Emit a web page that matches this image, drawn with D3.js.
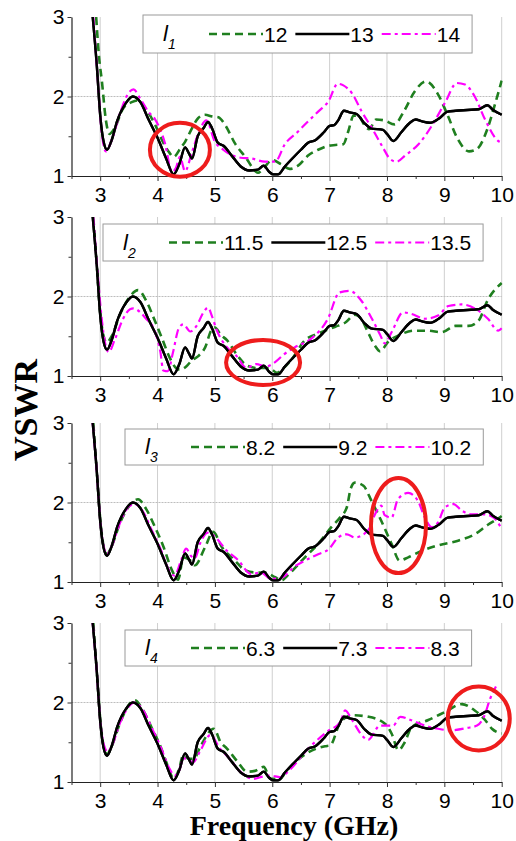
<!DOCTYPE html>
<html><head><meta charset="utf-8">
<script src="https://cdn.jsdelivr.net/npm/d3@7"></script>
<style>body{margin:0;background:#fff}svg{display:block}</style>
</head><body>
<script>
// ---------- DATA ----------
const xTicks = [3,4,5,6,7,8,9,10];
const xMinorTicks = [2.5,3.5,4.5,5.5,6.5,7.5,8.5,9.5];
const yTicks = [1,2,3];
const yMinorTicks = [1.5,2.5];
const panelParams = ["1","2","3","4"];
const legendLabels = [["12","13","14"],["11.5","12.5","13.5"],["8.2","9.2","10.2"],["6.3","7.3","8.3"]];

// reference (black) curve, identical in all panels
const refCurve = [[2.87,3.0],[2.94,2.4],[3.0,1.77],[3.06,1.43],[3.12,1.33],[3.2,1.45],[3.3,1.7],[3.45,1.92],[3.57,2.0],[3.7,1.93],[3.85,1.7],[4.0,1.48],[4.15,1.22],[4.28,1.02],[4.38,1.15],[4.48,1.36],[4.55,1.28],[4.6,1.22],[4.7,1.5],[4.8,1.6],[4.88,1.68],[4.95,1.6],[5.05,1.42],[5.15,1.38],[5.3,1.25],[5.45,1.12],[5.6,1.07],[5.75,1.08],[5.85,1.13],[5.95,1.05],[6.02,1.02],[6.1,1.02],[6.22,1.12],[6.35,1.22],[6.5,1.33],[6.63,1.42],[6.75,1.45],[6.9,1.55],[7.0,1.63],[7.08,1.64],[7.15,1.7],[7.25,1.82],[7.35,1.8],[7.47,1.78],[7.6,1.67],[7.72,1.6],[7.93,1.58],[8.0,1.53],[8.11,1.44],[8.25,1.55],[8.4,1.67],[8.5,1.71],[8.6,1.69],[8.75,1.67],[8.9,1.72],[9.06,1.81],[9.2,1.82],[9.4,1.83],[9.6,1.84],[9.75,1.89],[9.85,1.83],[10.0,1.77]];

const l1Low = [[2.93,3.0],[2.98,2.5],[3.03,2.19],[3.1,1.7],[3.16,1.53],[3.25,1.6],[3.4,1.85],[3.55,1.93],[3.65,1.95],[3.8,1.84],[3.96,1.64],[4.1,1.42],[4.2,1.3],[4.28,1.24],[4.4,1.35],[4.48,1.43],[4.6,1.6],[4.71,1.73],[4.83,1.77],[4.95,1.75],[5.06,1.74],[5.18,1.64],[5.35,1.41],[5.55,1.22],[5.68,1.08],[5.75,1.04],[5.85,1.1],[6.0,1.2],[6.15,1.15],[6.3,1.09],[6.45,1.13],[6.63,1.26],[6.8,1.33],[6.98,1.38],[7.1,1.39],[7.24,1.4],[7.32,1.55],[7.42,1.76],[7.5,1.76],[7.6,1.65],[7.69,1.59],[7.81,1.71],[7.95,1.7],[8.13,1.65],[8.3,1.82],[8.48,2.06],[8.68,2.19],[8.88,2.04],[9.06,1.76],[9.23,1.47],[9.43,1.31],[9.57,1.34],[9.75,1.59],[9.89,1.92],[10.0,2.2]];
const l1High = [[2.88,3.0],[2.95,2.3],[3.02,1.6],[3.1,1.31],[3.2,1.45],[3.35,1.8],[3.5,2.05],[3.58,2.09],[3.7,1.97],[3.85,1.8],[3.96,1.71],[4.13,1.41],[4.25,1.05],[4.32,1.1],[4.39,1.24],[4.48,1.06],[4.6,1.3],[4.72,1.55],[4.85,1.7],[5.0,1.43],[5.15,1.33],[5.3,1.26],[5.45,1.23],[5.64,1.22],[5.87,1.18],[6.05,1.18],[6.22,1.4],[6.45,1.56],[6.6,1.67],[6.8,1.81],[6.98,1.94],[7.14,2.16],[7.24,2.14],[7.39,2.04],[7.56,1.81],[7.74,1.6],[7.92,1.37],[8.06,1.21],[8.17,1.18],[8.32,1.26],[8.55,1.4],[8.78,1.63],[9.01,1.92],[9.22,2.17],[9.36,2.15],[9.53,2.0],[9.71,1.71],[9.94,1.44],[10.0,1.42]];

const l2Low = [[2.88,3.0],[2.94,2.4],[3.0,1.8],[3.06,1.5],[3.11,1.42],[3.2,1.5],[3.35,1.78],[3.5,1.98],[3.66,2.08],[3.8,1.95],[3.95,1.7],[4.08,1.47],[4.2,1.25],[4.31,1.11],[4.39,1.08],[4.5,1.12],[4.59,1.19],[4.71,1.25],[4.83,1.36],[4.94,1.58],[5.0,1.61],[5.1,1.52],[5.21,1.45],[5.4,1.25],[5.56,1.13],[5.75,1.1],[5.95,1.1],[6.08,1.04],[6.2,1.1],[6.35,1.22],[6.57,1.45],[6.75,1.52],[6.92,1.57],[7.1,1.62],[7.27,1.67],[7.44,1.77],[7.55,1.72],[7.65,1.58],[7.79,1.38],[7.88,1.31],[8.02,1.43],[8.2,1.51],[8.48,1.57],[8.72,1.57],[8.95,1.55],[9.19,1.63],[9.42,1.63],[9.59,1.69],[9.76,1.96],[10.0,2.17]];
const l2High = [[2.88,3.0],[2.95,2.35],[3.03,1.7],[3.09,1.4],[3.15,1.3],[3.25,1.45],[3.4,1.72],[3.52,1.84],[3.58,1.85],[3.7,1.8],[3.8,1.72],[3.93,1.6],[4.05,1.3],[4.1,1.07],[4.18,1.06],[4.27,1.3],[4.37,1.6],[4.45,1.65],[4.57,1.56],[4.68,1.63],[4.8,1.8],[4.88,1.86],[4.95,1.75],[5.03,1.58],[5.2,1.37],[5.38,1.25],[5.55,1.1],[5.72,1.15],[5.89,1.12],[6.06,1.18],[6.2,1.27],[6.39,1.36],[6.68,1.47],[6.97,1.72],[7.17,2.05],[7.35,2.07],[7.55,1.95],[7.73,1.73],[7.88,1.52],[7.96,1.41],[8.08,1.55],[8.28,1.8],[8.43,1.78],[8.66,1.72],[8.89,1.76],[9.07,1.88],[9.3,1.9],[9.53,1.85],[9.76,1.72],[9.94,1.57],[10.0,1.6]];

const l3Low = [[2.88,3.0],[2.94,2.4],[3.0,1.8],[3.06,1.45],[3.12,1.35],[3.2,1.45],[3.35,1.75],[3.5,1.95],[3.66,2.04],[3.8,1.92],[3.95,1.7],[4.1,1.45],[4.25,1.15],[4.36,1.03],[4.45,1.31],[4.57,1.27],[4.65,1.21],[4.83,1.44],[4.97,1.63],[5.12,1.44],[5.35,1.27],[5.52,1.15],[5.7,1.12],[5.87,1.12],[6.05,1.06],[6.17,1.02],[6.25,1.07],[6.57,1.31],[6.8,1.48],[7.03,1.69],[7.18,1.81],[7.3,1.94],[7.37,2.18],[7.44,2.25],[7.59,2.21],[7.73,2.02],[7.9,1.77],[8.08,1.48],[8.22,1.27],[8.37,1.31],[8.6,1.39],[8.89,1.46],[9.24,1.52],[9.53,1.6],[9.76,1.72],[9.94,1.8],[10.0,1.83]];
const l3High = [[2.87,3.0],[2.94,2.4],[3.0,1.78],[3.06,1.45],[3.12,1.35],[3.2,1.45],[3.35,1.75],[3.5,1.95],[3.6,1.98],[3.75,1.88],[3.9,1.65],[4.05,1.42],[4.2,1.15],[4.3,1.08],[4.4,1.25],[4.5,1.42],[4.58,1.33],[4.65,1.3],[4.75,1.5],[4.88,1.62],[5.0,1.57],[5.2,1.4],[5.4,1.28],[5.63,1.1],[5.8,1.12],[5.98,1.04],[6.15,1.05],[6.4,1.2],[6.57,1.27],[6.8,1.35],[6.98,1.41],[7.15,1.56],[7.3,1.6],[7.44,1.56],[7.67,1.65],[7.79,1.85],[7.9,1.96],[7.96,1.84],[8.08,1.81],[8.19,2.04],[8.37,2.12],[8.54,2.02],[8.66,1.81],[8.78,1.69],[8.89,1.75],[9.01,1.94],[9.16,1.98],[9.3,1.9],[9.48,1.85],[9.71,1.85],[9.86,1.81],[10.0,1.67]];

const l4Low = [[2.88,3.0],[2.94,2.4],[3.0,1.8],[3.06,1.45],[3.12,1.35],[3.2,1.45],[3.35,1.75],[3.5,1.97],[3.6,2.03],[3.75,1.9],[3.9,1.68],[4.05,1.45],[4.18,1.2],[4.28,1.04],[4.37,1.15],[4.45,1.34],[4.52,1.3],[4.63,1.29],[4.75,1.45],[4.98,1.67],[5.1,1.5],[5.21,1.42],[5.4,1.25],[5.56,1.13],[5.7,1.14],[5.85,1.19],[5.97,1.04],[6.14,1.04],[6.22,1.11],[6.4,1.25],[6.6,1.36],[6.92,1.45],[7.01,1.46],[7.18,1.74],[7.39,1.84],[7.68,1.82],[7.97,1.73],[8.08,1.61],[8.2,1.4],[8.31,1.5],[8.43,1.69],[8.72,1.78],[9.01,1.88],[9.3,1.98],[9.53,1.9],[9.71,1.78],[9.83,1.67],[10.0,1.61]];
const l4High = [[2.87,3.0],[2.94,2.4],[3.0,1.78],[3.06,1.48],[3.13,1.38],[3.2,1.45],[3.35,1.75],[3.5,1.95],[3.6,2.0],[3.75,1.9],[3.9,1.68],[4.05,1.45],[4.2,1.18],[4.3,1.08],[4.38,1.15],[4.45,1.3],[4.55,1.27],[4.62,1.25],[4.75,1.4],[4.92,1.59],[5.09,1.42],[5.25,1.3],[5.44,1.13],[5.67,1.04],[5.85,1.07],[5.97,1.08],[6.14,1.06],[6.3,1.15],[6.6,1.4],[6.95,1.63],[7.19,1.76],[7.27,1.9],[7.39,1.78],[7.56,1.59],[7.67,1.53],[7.88,1.71],[8.11,1.71],[8.23,1.82],[8.41,1.78],[8.66,1.71],[8.89,1.67],[9.1,1.65],[9.4,1.68],[9.57,1.71],[9.69,1.82],[9.8,2.05],[9.9,2.2]];

const panelSeries = [[l1Low, refCurve, l1High],[l2Low, refCurve, l2High],[l3Low, refCurve, l3High],[l4Low, refCurve, l4High]];
// highlighted regions (centre in data units)
const highlightCentres = [[4.39,1.33],[5.84,1.17],[8.2,1.71],[9.6,1.8]];

// ---------- LAYOUT / STYLE ----------
const W = 516, H = 841;
const plotLeft = 71.5, plotRight = 501.7, plotH = 159;
const panelTops = [17, 217, 423, 623];
const tickLabelPad = [6, 6, 6, 6];
const legendBoxes = [{x:143,y:15,h:38},{x:103,y:224,h:37},{x:125,y:429,h:36},{x:125,y:630,h:36}];
const ellipseRadii = [[30,27],[37,22.5],[27.5,47.5],[31,32]];
const seriesStyle = [
  {color:"#1f7f1f", dash:"8,5", width:2.6},
  {color:"#000000", dash:null, width:2.4},
  {color:"#ff00ff", dash:"9,4,3,4", width:2.2}
];
const sansFont = "'Liberation Sans', Arial, sans-serif";
const serifFont = "'Liberation Serif', 'Times New Roman', serif";

const svg = d3.select("body").append("svg").attr("width", W).attr("height", H);
const x = d3.scaleLinear().domain([2.5, 10]).range([plotLeft, plotRight]);

panelTops.forEach((top, i) => {
  const y = d3.scaleLinear().domain([1, 3]).range([top + plotH, top]);
  const g = svg.append("g");

  // grid
  g.append("g").selectAll("line").data(xTicks).join("line")
    .attr("x1", d => x(d)).attr("x2", d => x(d))
    .attr("y1", y(1)).attr("y2", y(3))
    .attr("stroke", "#cfcfcf").attr("stroke-width", 1);
  g.append("line").attr("x1", plotLeft).attr("x2", plotRight)
    .attr("y1", y(2)).attr("y2", y(2))
    .attr("stroke", "#bdbdbd").attr("stroke-width", 1).attr("stroke-dasharray", "2,1");

  // clip
  const clipId = "clip" + i;
  svg.append("clipPath").attr("id", clipId).append("rect")
    .attr("x", plotLeft).attr("y", y(3)).attr("width", plotRight - plotLeft + 1).attr("height", plotH);

  // lines
  const line = d3.line().x(d => x(d[0])).y(d => y(d[1])).curve(d3.curveMonotoneX);
  const lg = g.append("g").attr("clip-path", `url(#${clipId})`);
  panelSeries[i].forEach((s, k) => {
    const st = seriesStyle[k];
    lg.append("path").datum(s).attr("d", line)
      .attr("fill", "none").attr("stroke", st.color)
      .attr("stroke-width", st.width)
      .attr("stroke-dasharray", st.dash)
      .attr("stroke-linejoin", "round");
  });
  lg.append("path").datum(panelSeries[i][1]).attr("d", line)
    .attr("fill", "none").attr("stroke", "#000").attr("stroke-width", 2.4).attr("stroke-linejoin", "round");

  // axes
  const xAxis = d3.axisBottom(x).tickValues(xTicks).tickSize(5).tickSizeOuter(0).tickPadding(tickLabelPad[i]).tickFormat(d3.format("d"));
  const xa = g.append("g").attr("transform", `translate(0,${y(1)})`).call(xAxis);
  const xm = g.append("g").attr("transform", `translate(0,${y(1)})`)
    .call(d3.axisBottom(x).tickValues(xMinorTicks).tickSize(3).tickSizeOuter(0).tickFormat(""));
  xm.select(".domain").remove();
  const yAxis = d3.axisLeft(y).tickValues(yTicks).tickSize(4).tickSizeOuter(0).tickPadding(3).tickFormat(d3.format("d"));
  const ya = g.append("g").attr("transform", `translate(${plotLeft},0)`).call(yAxis);
  const ym = g.append("g").attr("transform", `translate(${plotLeft},0)`)
    .call(d3.axisLeft(y).tickValues(yMinorTicks).tickSize(3).tickSizeOuter(0).tickFormat(""));
  ym.select(".domain").remove();
  [xa, ya].forEach(a => {
    a.selectAll("text").attr("font-family", sansFont).attr("font-size", 21).attr("fill", "#000");
    a.select(".domain").attr("stroke", "#222").attr("stroke-width", 1.2);
  });
  g.selectAll(".tick line").attr("stroke", "#333");

  // highlight ellipse
  g.append("ellipse")
    .attr("cx", x(highlightCentres[i][0])).attr("cy", y(highlightCentres[i][1]))
    .attr("rx", ellipseRadii[i][0]).attr("ry", ellipseRadii[i][1])
    .attr("fill", "none").attr("stroke", "#ee1c1c").attr("stroke-width", 4);

  // legend
  const lb = legendBoxes[i];
  const leg = g.append("g");
  const box = leg.append("rect").attr("x", lb.x).attr("y", lb.y).attr("height", lb.h)
    .attr("fill", "#fff").attr("stroke", "#9a9a9a").attr("stroke-width", 1);
  const midY = lb.y + lb.h / 2;
  const title = leg.append("text").attr("x", lb.x + 20).attr("y", midY + 7)
    .attr("font-family", sansFont).attr("font-style", "italic").attr("font-size", 22).attr("fill", "#000");
  title.append("tspan").text("l");
  title.append("tspan").attr("dy", 8).attr("font-size", 14).text(panelParams[i]);
  let cx = lb.x + 66;
  legendLabels[i].forEach((lab, k) => {
    const st = seriesStyle[k];
    leg.append("line").attr("x1", cx).attr("x2", cx + 54).attr("y1", midY).attr("y2", midY)
      .attr("stroke", st.color).attr("stroke-width", st.width).attr("stroke-dasharray", st.dash);
    cx += 55;
    const t = leg.append("text").attr("x", cx).attr("y", midY + 7.5)
      .attr("font-family", sansFont).attr("font-size", 21).attr("fill", "#000").text(lab);
    cx += t.node().getComputedTextLength() + 8;
  });
  box.attr("width", cx - 8 + 12 - lb.x);
});

// axis titles
svg.append("text").attr("transform", "translate(37,410) rotate(-90)")
  .attr("text-anchor", "middle").attr("font-family", serifFont).attr("font-weight", "bold")
  .attr("font-size", 34).text("VSWR");
svg.append("text").attr("x", 294).attr("y", 835)
  .attr("text-anchor", "middle").attr("font-family", serifFont).attr("font-weight", "bold")
  .attr("font-size", 28).text("Frequency (GHz)");
</script>
</body></html>
